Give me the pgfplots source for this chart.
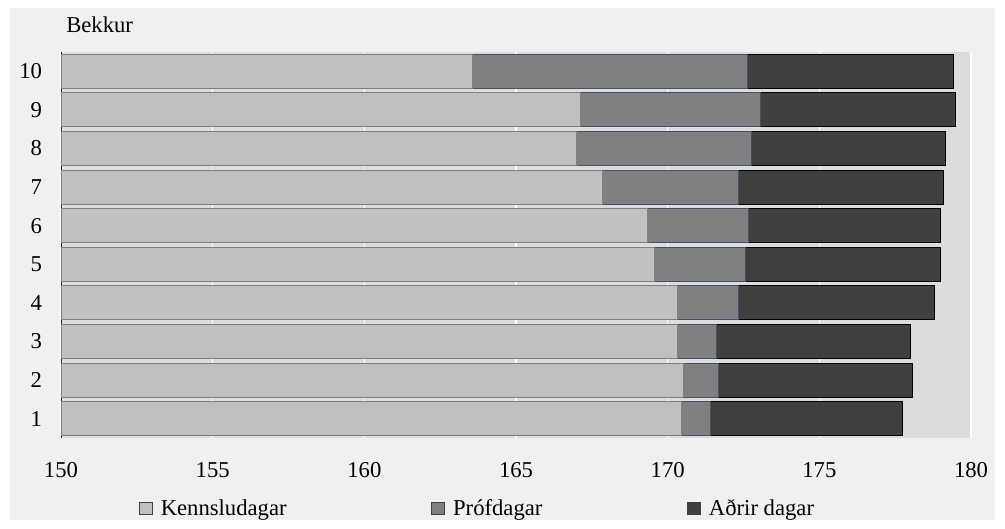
\documentclass[border=0pt]{standalone}
\usepackage{fontspec}
\setmainfont{Liberation Serif}
\usepackage{pgfplots}
\usepackage{pgfplotstable}
\pgfplotsset{compat=1.18}
\usetikzlibrary{backgrounds,calc}

\definecolor{kenn}{HTML}{C0C0C0}
\definecolor{prof}{HTML}{808080}
\definecolor{adrir}{HTML}{404040}
\definecolor{plotbg}{HTML}{DCDCDC}
\definecolor{panel}{HTML}{F0F0F0}
\definecolor{axisline}{HTML}{202040}
\definecolor{profedge}{HTML}{44506A}

% bekkur, kennsludagar, profdagar, adrir dagar
\pgfplotstableread{
g K P A
1 170.44 0.96 6.33
2 170.51 1.15 6.40
3 170.31 1.29 6.39
4 170.31 2.04 6.43
5 169.58 2.97 6.46
6 169.35 3.33 6.33
7 167.84 4.51 6.73
8 167.01 5.74 6.40
9 167.14 5.91 6.43
10 163.55 9.07 6.79
}\bekkir

\begin{document}
\fontsize{17pt}{20pt}\selectfont
\begin{tikzpicture}
\begin{axis}[
  name=ax,
  at={(45.75pt,67.5pt)}, anchor=south west,
  scale only axis,
  width=682.5pt, height=289.5pt,
  xbar stacked,
  bar width=25.5pt,
  xmin=150, xmax=180,
  ymin=0.5, ymax=10.5,
  xtick={150,155,...,180},
  ytick={1,...,10},
  /pgf/number format/assume math mode=true,
  major tick length=0pt,
  axis background/.style={fill=plotbg},
  xmajorgrids,
  grid style={white, line width=1.1pt},
  axis x line*=bottom,
  axis y line*=left,
  x axis line style={draw=none},
  y axis line style={draw=axisline, line width=0.75pt},
  xticklabel style={inner sep=0pt, anchor=north, yshift=-18pt},
  yticklabel style={inner sep=0pt, anchor=east, xshift=-14pt},
  legend columns=3,
  legend style={draw=none, fill=none, inner sep=0pt, outer sep=0pt,
    at={(0.0857,-0.184)}, anchor=west,
    nodes={inner sep=0pt},
    /tikz/every odd column/.append style={column sep=6pt},
    /tikz/every even column/.append style={column sep=108.5pt}},
  legend image code/.code={\draw[#1,draw=black!75,line width=0.6pt] (0pt,-4pt) rectangle (9.75pt,5pt);},
]
\addplot[fill=kenn, draw=black!50, line width=0.75pt] table[x=K, y=g] {\bekkir};
\addlegendentry{Kennsludagar}
\addplot[fill=prof, draw=profedge, line width=0.75pt] table[x=P, y=g] {\bekkir};
\addlegendentry{Prófdagar}
\addplot[fill=adrir, draw=black, line width=0.75pt] table[x=A, y=g] {\bekkir};
\addlegendentry{Aðrir dagar}
\end{axis}
\node[anchor=base west, inner sep=0pt] at ($(ax.north west)+(3.75pt,14.25pt)$) {Bekkur};
\begin{scope}[on background layer]
\fill[white] ($(ax.south west)+(-45.75pt,-67.5pt)$) rectangle ++(753.75pt,396pt);
\fill[panel] ($(ax.south west)+(-38.25pt,-61.5pt)$) rectangle ++(738.75pt,384pt);
\end{scope}
\end{tikzpicture}
\end{document}
